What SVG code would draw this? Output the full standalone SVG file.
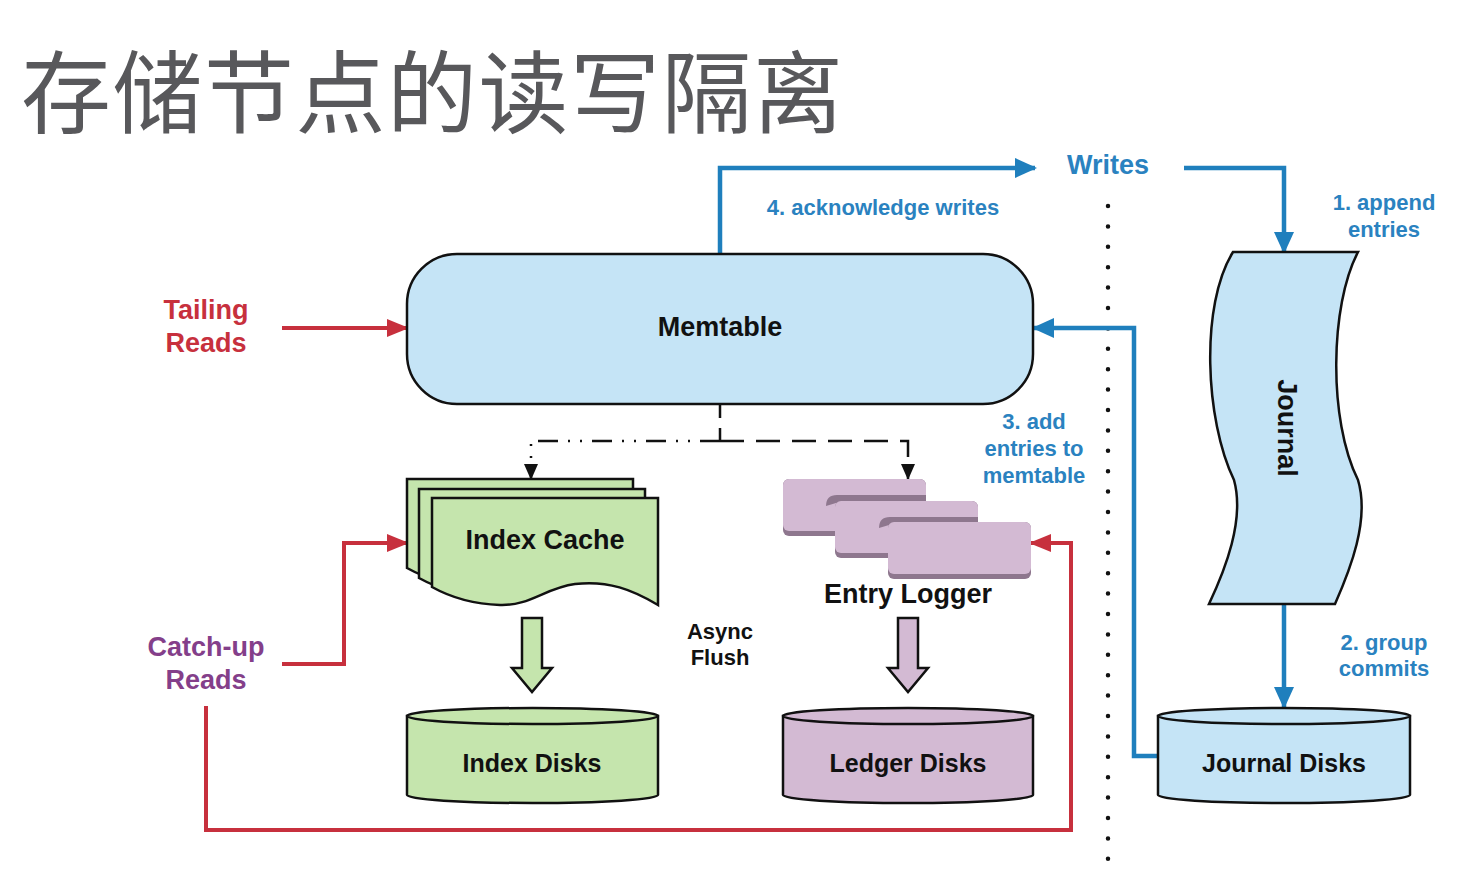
<svg xmlns="http://www.w3.org/2000/svg" width="1468" height="872" viewBox="0 0 1468 872">
<style>
.t{font-family:"Liberation Sans",Arial,sans-serif;font-weight:bold;text-anchor:middle}
.lbl{font-size:22px;fill:#2a82c0}
.big{font-size:27px}
.blk{fill:#111}
.node{stroke:#111;stroke-width:2.5}
.blue{fill:none;stroke:#1f7fbd;stroke-width:4.5}
.red{fill:none;stroke:#c7303d;stroke-width:4}
.dash{fill:none;stroke:#111;stroke-width:2.5}
.card{fill:#d3bad3}
.shade{fill:#8e778e}
</style>
<defs>
<marker id="ab" markerUnits="userSpaceOnUse" markerWidth="22" markerHeight="20" refX="20" refY="10" orient="auto"><path d="M0,0 L22,10 L0,20 Z" fill="#1f7fbd"/></marker>
<marker id="ar" markerUnits="userSpaceOnUse" markerWidth="22" markerHeight="18" refX="20" refY="9" orient="auto"><path d="M0,0 L22,9 L0,18 Z" fill="#c7303d"/></marker>
<marker id="ak" markerUnits="userSpaceOnUse" markerWidth="16" markerHeight="14" refX="15" refY="7" orient="auto"><path d="M0,0 L16,7 L0,14 Z" fill="#111"/></marker>
</defs>
<rect width="1468" height="872" fill="#fff"/>
<text x="21" y="126" font-family="'Noto Sans CJK SC',sans-serif" font-size="90" letter-spacing="1.5" fill="#58585b">存储节点的读写隔离</text>

<g id="connectors">
<line x1="1108" y1="206" x2="1108" y2="860" stroke="#111" stroke-width="4.5" stroke-linecap="round" stroke-dasharray="0,20.4"/>
<path class="blue" d="M720,254 V168 H1035" marker-end="url(#ab)"/>
<path class="blue" d="M1184,168 H1284 V252" marker-end="url(#ab)"/>
<path class="blue" d="M1284,604 V707" marker-end="url(#ab)"/>
<path class="blue" d="M1158,756 H1134 V328 H1034" marker-end="url(#ab)"/>
<path class="red" d="M282,328 H407" marker-end="url(#ar)"/>
<path class="red" d="M282,664 H344 V543 H407" marker-end="url(#ar)"/>
<path class="red" d="M206,706 V830 H1071 V543 H1031" marker-end="url(#ar)"/>
<path class="dash" d="M720,404 V441" stroke-dasharray="14,10"/>
<path class="dash" d="M720,441 H531 V479" stroke-dasharray="20,10,2,10,2,10" marker-end="url(#ak)"/>
<path class="dash" d="M720,441 H908 V479" stroke-dasharray="24,12" marker-end="url(#ak)"/>
</g>

<g id="writes"><text class="t" x="1108" y="174" font-size="27" fill="#2a82c0">Writes</text></g>
<g id="lbl-ack"><text class="t lbl" x="883" y="215">4. acknowledge writes</text></g>
<g id="lbl-append"><text class="t lbl" x="1384" y="210">1. append</text><text class="t lbl" x="1384" y="237">entries</text></g>
<g id="lbl-add"><text class="t lbl" x="1034" y="429">3. add</text><text class="t lbl" x="1034" y="456">entries to</text><text class="t lbl" x="1034" y="483">memtable</text></g>
<g id="lbl-group"><text class="t lbl" x="1384" y="650">2. group</text><text class="t lbl" x="1384" y="676">commits</text></g>
<g id="tailing"><text class="t big" x="206" y="319" fill="#c7303d">Tailing</text><text class="t big" x="206" y="352" fill="#c7303d">Reads</text></g>
<g id="catchup"><text class="t big" x="206" y="656" fill="#843f8a">Catch-up</text><text class="t big" x="206" y="689" fill="#843f8a">Reads</text></g>
<g id="async"><text class="t blk" x="720" y="639" font-size="22">Async</text><text class="t blk" x="720" y="665" font-size="22">Flush</text></g>

<g id="memtable">
<rect class="node" x="407" y="254" width="626" height="150" rx="50" fill="#c5e4f6"/>
<text class="t blk" x="720" y="336" font-size="27">Memtable</text>
</g>

<g id="journal">
<path class="node" fill="#c5e4f6" d="M1233,252 H1358 C1330,305 1328,420 1358,480 C1370,520 1350,570 1335,604 H1209 C1225,570 1245,520 1234,480 C1205,420 1200,305 1233,252 Z"/>
<text class="t blk" x="1287" y="428" font-size="27" transform="rotate(90 1287 428)" dy="9">Journal</text>
</g>

<g id="index-cache">
<path class="node" fill="#c5e5ad" d="M407,479 H633 V586 C608,571 583,561 550,565 C520,569 505,587 475,586 C445,585 425,578 407,568 Z"/>
<path class="node" fill="#c5e5ad" d="M419,489 H645 V596 C620,581 595,571 562,575 C532,579 517,597 487,596 C457,595 437,588 419,578 Z"/>
<path class="node" fill="#c5e5ad" d="M432,498 H658 V605 C633,590 608,580 575,584 C545,588 530,606 500,605 C470,604 450,597 432,587 Z"/>
<text class="t blk" x="545" y="549" font-size="27">Index Cache</text>
</g>

<g id="entry-logger">
<rect class="shade" x="783" y="479" width="143" height="57" rx="6"/>
<rect class="card" x="783" y="479" width="143" height="52" rx="6"/>
<path class="shade" d="M826,506 Q826,495 837,495 H926 V503 H836 Z"/>
<rect class="shade" x="835" y="501" width="143" height="57" rx="6"/>
<rect class="card" x="835" y="501" width="143" height="52" rx="6"/>
<path class="shade" d="M879,528 Q879,517 890,517 H978 V525 H889 Z"/>
<rect class="shade" x="888" y="522" width="143" height="57" rx="6"/>
<rect class="card" x="888" y="522" width="143" height="52" rx="6"/>
<text class="t blk" x="908" y="603" font-size="27">Entry Logger</text>
</g>

<g id="flush-index"><polygon class="node" fill="#c5e5ad" points="522,618 542,618 542,668 552,668 532,692 512,668 522,668"/></g>
<g id="flush-ledger"><polygon class="node" fill="#d3bad3" points="898,618 918,618 918,668 928,668 908,692 888,668 898,668"/></g>

<g id="index-disks">
<path class="node" fill="#c5e5ad" d="M407,716 V795 A125.5,8 0 0 0 658,795 V716 Z"/>
<ellipse class="node" cx="532.5" cy="716" rx="125.5" ry="8" fill="#c5e5ad"/>
<text class="t blk" x="532" y="772" font-size="25">Index Disks</text>
</g>
<g id="ledger-disks">
<path class="node" fill="#d3bad3" d="M783,716 V795 A125,8 0 0 0 1033,795 V716 Z"/>
<ellipse class="node" cx="908" cy="716" rx="125" ry="8" fill="#d3bad3"/>
<text class="t blk" x="908" y="772" font-size="25">Ledger Disks</text>
</g>
<g id="journal-disks">
<path class="node" fill="#c5e4f6" d="M1158,716 V795 A126,8 0 0 0 1410,795 V716 Z"/>
<ellipse class="node" cx="1284" cy="716" rx="126" ry="8" fill="#c5e4f6"/>
<text class="t blk" x="1284" y="772" font-size="25">Journal Disks</text>
</g>
</svg>
